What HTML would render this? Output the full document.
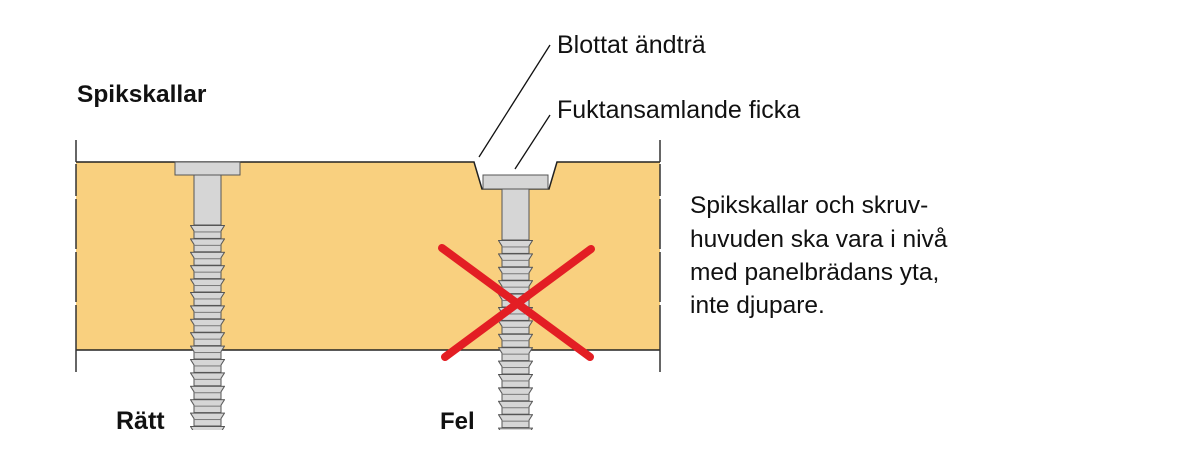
<!DOCTYPE html>
<html><head><meta charset="utf-8"><style>
html,body{margin:0;padding:0;background:#fff;}
svg{display:block;}
text{font-family:"Liberation Sans",sans-serif;fill:#111;}
</style></head><body>
<svg width="1200" height="474" viewBox="0 0 1200 474" xmlns="http://www.w3.org/2000/svg">
<defs>
<pattern id="th1" patternUnits="userSpaceOnUse" x="0" y="225" width="1200" height="13.4">
<path d="M190.5 0.5 H224.5 L221 6 V13.4 H194 V6 Z" fill="#d6d6d6" stroke="#555" stroke-width="1"/>
<line x1="194" y1="7" x2="221" y2="7" stroke="#777" stroke-width="1"/>
</pattern>
<pattern id="th2" patternUnits="userSpaceOnUse" x="0" y="240" width="1200" height="13.4">
<path d="M498.5 0.5 H532.5 L529 6 V13.4 H502 V6 Z" fill="#d6d6d6" stroke="#555" stroke-width="1"/>
<line x1="502" y1="7" x2="529" y2="7" stroke="#777" stroke-width="1"/>
</pattern>
</defs>
<!-- board -->
<path d="M76 162 H474 L482 189 H549 L557 162 H660 V350 H76 Z" fill="#f9d07f"/>
<path d="M76 162 H474 L482 189 H549 L557 162 H660" fill="none" stroke="#222" stroke-width="1.5"/>
<line x1="76" y1="350" x2="660" y2="350" stroke="#222" stroke-width="1.5"/>
<line x1="76" y1="140" x2="76" y2="372" stroke="#333" stroke-width="1.5" stroke-dasharray="22 2 32 3 50 3 50 3 80"/>
<line x1="660" y1="140" x2="660" y2="372" stroke="#333" stroke-width="1.5" stroke-dasharray="22 2 32 3 50 3 50 3 80"/>
<!-- left screw -->
<rect x="190" y="225" width="35" height="205" fill="url(#th1)"/>
<rect x="194" y="175" width="27" height="50" fill="#d6d6d6" stroke="#555" stroke-width="1"/>
<rect x="175" y="162" width="65" height="13" fill="#d6d6d6" stroke="#555" stroke-width="1"/>
<!-- right screw -->
<rect x="498" y="240" width="35" height="190" fill="url(#th2)"/>
<rect x="502" y="189" width="27" height="51" fill="#d6d6d6" stroke="#555" stroke-width="1"/>
<rect x="483" y="175" width="65" height="14" fill="#d6d6d6" stroke="#555" stroke-width="1"/>
<!-- X -->
<line x1="442" y1="248" x2="590" y2="357" stroke="#e31e24" stroke-width="8" stroke-linecap="round"/>
<line x1="445" y1="357" x2="591" y2="249" stroke="#e31e24" stroke-width="8" stroke-linecap="round"/>
<!-- leaders -->
<line x1="479" y1="157" x2="550" y2="45" stroke="#111" stroke-width="1.3"/>
<line x1="515" y1="169" x2="550" y2="115" stroke="#111" stroke-width="1.3"/>
<text x="557" y="53" font-size="25">Blottat ändträ</text>
<text x="557" y="118" font-size="25">Fuktansamlande ficka</text>
<text x="77" y="102" font-size="24.5" font-weight="bold">Spikskallar</text>
<text x="116" y="429" font-size="25" font-weight="bold">Rätt</text>
<text x="440" y="429" font-size="24" font-weight="bold">Fel</text>
<text x="690" y="213" font-size="24.5">Spikskallar och skruv-</text>
<text x="690" y="247" font-size="24.5">huvuden ska vara i nivå</text>
<text x="690" y="280" font-size="24.5">med panelbrädans yta,</text>
<text x="690" y="313" font-size="24.5">inte djupare.</text>
</svg>
</body></html>
